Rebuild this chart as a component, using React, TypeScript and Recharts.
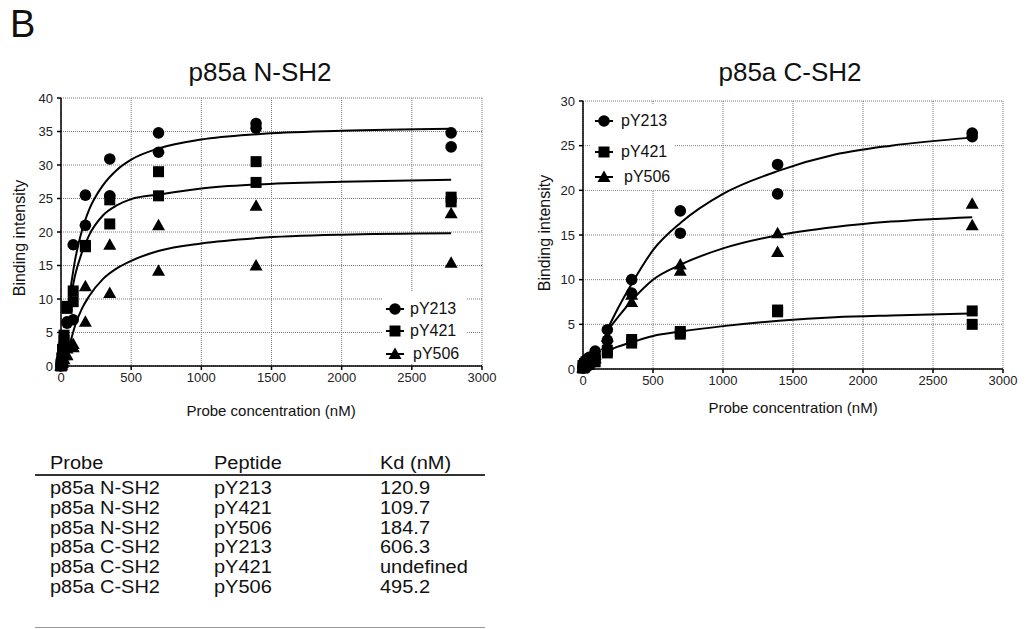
import React from 'react'
import { ComposedChart, Scatter, Line, XAxis, YAxis, CartesianGrid } from 'recharts'

// probe concentrations (nM), two replicates per peptide
const concentrations = [0, 5.4, 10.9, 21.7, 43.4, 86.9, 173.8, 347.5, 695, 1390, 2780]

// p85a N-SH2
const nY213a = [0.2, 0.8, 1.8, 3.5, 6.6, 18.1, 25.5, 30.9, 34.8, 36.2, 34.8]
const nY213b = [0.0, 0.5, 1.2, 2.8, 6.4, 6.9, 21.0, 25.4, 31.9, 35.5, 32.7]
const nY421a = [0.3, 1.2, 2.5, 4.6, 8.9, 11.2, 18.0, 24.8, 29.0, 30.5, 25.2]
const nY421b = [0.0, 0.6, 1.6, 3.8, 8.6, 9.6, 17.8, 21.2, 25.4, 27.4, 24.5]
const nY506a = [0.1, 0.4, 0.8, 1.6, 2.6, 3.3, 11.9, 18.1, 21.0, 23.9, 22.8]
const nY506b = [0.0, 0.2, 0.5, 1.0, 1.6, 2.8, 6.6, 10.9, 14.2, 15.0, 15.4]

// p85a C-SH2
const cY213a = [0.3, 0.5, 0.8, 1.0, 1.3, 2.0, 4.4, 10.0, 17.7, 22.9, 26.4]
const cY213b = [0.1, 0.3, 0.5, 0.7, 0.9, 1.4, 3.2, 8.5, 15.2, 19.6, 26.0]
const cY421a = [0.4, 0.4, 0.6, 0.8, 1.0, 1.2, 2.1, 3.3, 4.2, 6.6, 6.5]
const cY421b = [0.1, 0.2, 0.3, 0.4, 0.5, 0.8, 1.8, 2.9, 3.9, 6.4, 5.0]
const cY506a = [0.2, 0.4, 0.6, 0.8, 1.0, 1.6, 3.6, 8.3, 11.7, 15.2, 18.5]
const cY506b = [0.1, 0.2, 0.3, 0.5, 0.7, 1.2, 2.7, 7.5, 11.0, 13.1, 16.1]

// fitted curves
const nCurveX = [60, 100, 150, 200, 300, 400, 500, 700, 1000, 1400, 2000, 2780]
const nFit213 = [10.4, 15.8, 20.3, 23.3, 27.0, 29.3, 30.8, 32.5, 33.8, 34.6, 35.1, 35.4]
const nFit421 = [9.0, 13.5, 17.0, 19.5, 22.5, 24.0, 24.9, 25.6, 26.5, 27.1, 27.5, 27.8]
const nFit506 = [3.0, 6.0, 8.6, 10.4, 13.0, 14.6, 15.7, 17.2, 18.3, 19.1, 19.6, 19.8]

const cCurveX = [170, 250, 350, 500, 700, 1000, 1400, 1800, 2200, 2780]
const cFit213 = [4.3, 6.8, 9.6, 13.3, 16.4, 19.6, 22.2, 24.0, 25.0, 25.9]
const cFit421 = [2.0, 2.5, 3.0, 3.7, 4.2, 4.8, 5.4, 5.8, 6.0, 6.2]
const cFit506 = [4.2, 5.8, 7.7, 10.0, 11.7, 13.5, 15.0, 15.9, 16.5, 17.0]

const xTicks = [0, 500, 1000, 1500, 2000, 2500, 3000]
const nYTicks = [0, 5, 10, 15, 20, 25, 30, 35, 40]
const cYTicks = [0, 5, 10, 15, 20, 25, 30]
const peptides = ['pY213', 'pY421', 'pY506']

const tableHeader = ['Probe', 'Peptide', 'Kd (nM)']
const tableProbes = ['p85a N-SH2', 'p85a N-SH2', 'p85a N-SH2', 'p85a C-SH2', 'p85a C-SH2', 'p85a C-SH2']
const tablePeptides = ['pY213', 'pY421', 'pY506', 'pY213', 'pY421', 'pY506']
const tableKd = ['120.9', '109.7', '184.7', '606.3', 'undefined', '495.2']

const FONT = "'Liberation Sans', Arial, sans-serif"

const toPoints = (a: number[], b: number[]) => [
  ...a.map((y, i) => ({ x: concentrations[i], y })),
  ...b.map((y, i) => ({ x: concentrations[i], y })),
]
const toCurve = (xs: number[], ys: number[]) => xs.map((x, i) => ({ x, y: ys[i] }))

const CircleMark = (p: any) => <circle cx={p.cx} cy={p.cy} r={5.8} fill="#000" />
const SquareMark = (p: any) => <rect x={p.cx - 5.5} y={p.cy - 5.5} width={11} height={11} fill="#000" />
const TriangleMark = (p: any) => (
  <polygon points={`${p.cx},${p.cy - 6.5} ${p.cx + 6.5},${p.cy + 5} ${p.cx - 6.5},${p.cy + 5}`} fill="#000" />
)
const marks = [CircleMark, SquareMark, TriangleMark]

interface PanelProps {
  left: number
  width: number
  yMax: number
  yTicks: number[]
  margin: { top: number; right: number; bottom: number; left: number }
  points: { x: number; y: number }[][]
  curves: { x: number; y: number }[][]
}

function Panel({ left, width, yMax, yTicks, margin, points, curves }: PanelProps) {
  const tick = { fontSize: 13, fill: '#222', fontFamily: FONT }
  return (
    <div style={{ position: 'absolute', left, top: 0 }}>
      <ComposedChart width={width} height={420} margin={margin}>
        <CartesianGrid stroke="#7a7a7a" strokeDasharray="1 1" />
        <XAxis dataKey="x" type="number" domain={[0, 3000]} ticks={xTicks} interval={0}
          stroke="#000" strokeWidth={1.5} tickSize={4} tickMargin={3} height={30} tick={tick} />
        <XAxis xAxisId="top" orientation="top" dataKey="x" type="number" domain={[0, 3000]} ticks={xTicks}
          interval={0} stroke="#000" strokeWidth={1.5} tickSize={4} tick={false} height={0} />
        <YAxis dataKey="y" type="number" domain={[0, yMax]} ticks={yTicks} interval={0}
          stroke="#000" strokeWidth={1.5} tickSize={4} tickMargin={4} width={40} tick={tick} />
        <YAxis yAxisId="right" orientation="right" dataKey="y" type="number" domain={[0, yMax]} ticks={yTicks}
          interval={0} stroke="#000" strokeWidth={1.5} tickSize={4} tick={false} width={0} />
        {curves.map((c, i) => (
          <Line key={'c' + i} data={c} dataKey="y" type="monotone" dot={false} activeDot={false}
            stroke="#000" strokeWidth={2} isAnimationActive={false} />
        ))}
        {points.map((p, i) => (
          <Scatter key={'s' + i} data={p} dataKey="y" shape={marks[i]} isAnimationActive={false} />
        ))}
      </ComposedChart>
    </div>
  )
}

function LegendBox({ left, top, width, height, rowY, iconX, textX }: {
  left: number; top: number; width: number; height: number; rowY: number[]; iconX: number; textX: number
}) {
  return (
    <div style={{ position: 'absolute', left, top, width, height, background: '#fff' }}>
      {peptides.map((name, i) => {
        const Mark = marks[i]
        return (
          <React.Fragment key={name}>
            <svg style={{ position: 'absolute', left: iconX - 10, top: rowY[i] - 8 }} width={20} height={16}>
              <line x1={1} y1={8} x2={19} y2={8} stroke="#000" strokeWidth={2} />
              <Mark cx={10} cy={8} />
            </svg>
            <div style={{ position: 'absolute', left: textX + (i === 2 ? 3 : 0), top: rowY[i] - 9, fontSize: 16,
              lineHeight: '18px', color: '#111', whiteSpace: 'nowrap' }}>{name}</div>
          </React.Fragment>
        )
      })}
    </div>
  )
}

const centered = (cx: number, cy: number, size: number, rotate = false): React.CSSProperties => ({
  position: 'absolute', left: cx, top: cy, fontSize: size, lineHeight: `${size}px`, whiteSpace: 'nowrap', color: '#111',
  transform: `translate(-50%, -50%)${rotate ? ' rotate(-90deg)' : ''}`,
})

const cellStyle = (left: number, top: number): React.CSSProperties => ({
  position: 'absolute', left, top, fontSize: 18, lineHeight: '18px', color: '#111', whiteSpace: 'nowrap',
  transform: 'scaleX(1.11)', transformOrigin: 'left center',
})

export default function App() {
  const nPoints = [toPoints(nY213a, nY213b), toPoints(nY421a, nY421b), toPoints(nY506a, nY506b)]
  const cPoints = [toPoints(cY213a, cY213b), toPoints(cY421a, cY421b), toPoints(cY506a, cY506b)]
  const nCurves = [toCurve(nCurveX, nFit213), toCurve(nCurveX, nFit421), toCurve(nCurveX, nFit506)]
  const cCurves = [toCurve(cCurveX, cFit213), toCurve(cCurveX, cFit421), toCurve(cCurveX, cFit506)]
  const colX = [50, 214, 380]

  return (
    <div style={{ position: 'absolute', left: 0, top: 0, width: 1025, height: 629, background: '#fff',
      fontFamily: FONT, overflow: 'hidden' }}>
      <div style={{ position: 'absolute', left: 10, top: 5, fontSize: 38, lineHeight: '38px', color: '#111' }}>B</div>
      <div style={centered(260, 72, 26)}>p85a N-SH2</div>
      <div style={centered(790, 72, 26)}>p85a C-SH2</div>

      <Panel left={0} width={500} yMax={40} yTicks={nYTicks}
        margin={{ top: 98, right: 18, bottom: 24, left: 21 }} points={nPoints} curves={nCurves} />
      <Panel left={520} width={505} yMax={30} yTicks={cYTicks}
        margin={{ top: 101, right: 22, bottom: 21, left: 23 }} points={cPoints} curves={cCurves} />

      <LegendBox left={383} top={292} width={83} height={72} rowY={[17, 39, 62]} iconX={12} textX={27} />
      <LegendBox left={590} top={105} width={84} height={85} rowY={[16, 47, 72]} iconX={14} textX={31} />

      <div style={centered(20, 238, 16, true)}>Binding intensity</div>
      <div style={centered(545, 233, 16, true)}>Binding intensity</div>
      <div style={centered(271, 410, 15)}>Probe concentration (nM)</div>
      <div style={centered(793, 407, 15)}>Probe concentration (nM)</div>

      <div style={{ position: 'absolute', left: 35, top: 474, width: 450, height: 2, background: '#333' }} />
      <div style={{ position: 'absolute', left: 35, top: 627, width: 450, height: 1, background: '#999' }} />
      {tableHeader.map((h, j) => (
        <div key={h} style={cellStyle(colX[j], 454)}>{h}</div>
      ))}
      {tableProbes.map((probe, i) => (
        [probe, tablePeptides[i], tableKd[i]].map((cell, j) => (
          <div key={i + '-' + j} style={cellStyle(colX[j], 479 + i * 19.8)}>{cell}</div>
        ))
      ))}
    </div>
  )
}
